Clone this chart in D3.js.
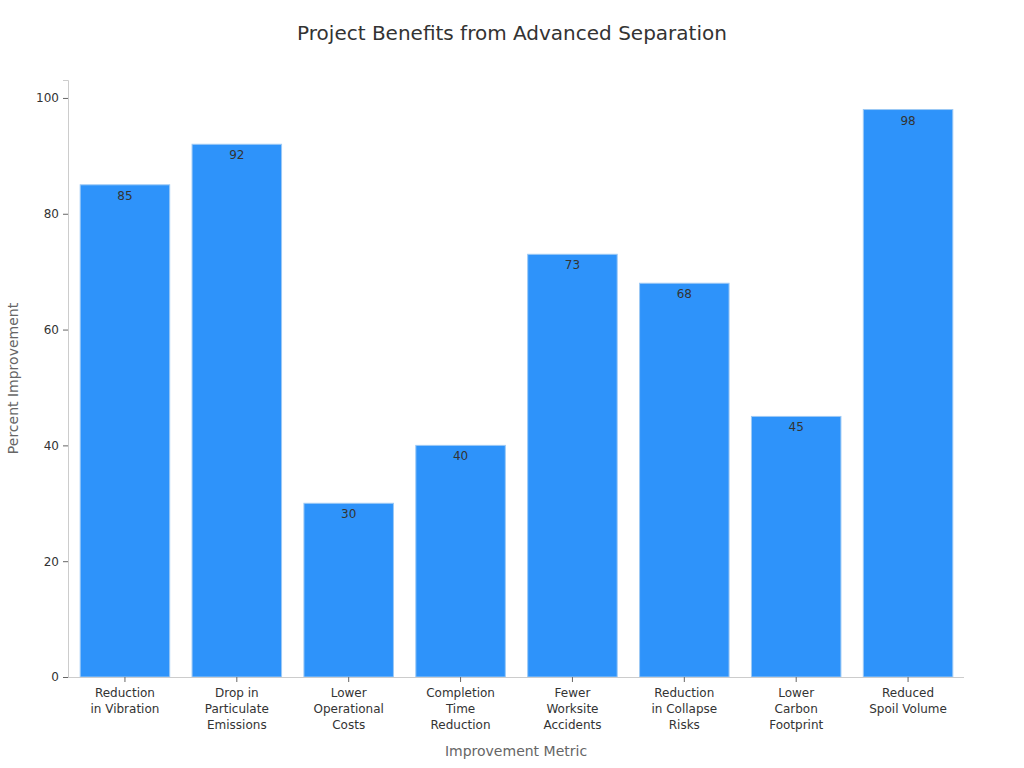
<!DOCTYPE html>
<html><head><meta charset="utf-8">
<script src="https://cdn.jsdelivr.net/npm/d3@7"></script>
<style>body{margin:0;background:#fff;} text{font-family:"DejaVu Sans",sans-serif;}</style>
</head><body>
<svg id="c" width="1024" height="768"></svg>
<script>
const categories = [["Reduction","in Vibration"],["Drop in","Particulate","Emissions"],["Lower","Operational","Costs"],["Completion","Time","Reduction"],["Fewer","Worksite","Accidents"],["Reduction","in Collapse","Risks"],["Lower","Carbon","Footprint"],["Reduced","Spoil Volume"]];
const values = [85, 92, 30, 40, 73, 68, 45, 98];
const yTicks = [0, 20, 40, 60, 80, 100];
const title = "Project Benefits from Advanced Separation";
const xTitle = "Improvement Metric";
const yTitle = "Percent Improvement";

const svg = d3.select("#c");
const m = {l:68, r:964, t:80, b:677};
const keys = categories.map((d,i)=>i);
const x = d3.scaleBand().domain(keys).range([m.l+1, m.r]).paddingInner(0.2).paddingOuter(0.1);
const y = d3.scaleLinear().domain([0, 103.1]).range([m.b, m.t]);

svg.append("text").attr("x",512).attr("y",40).attr("text-anchor","middle")
  .attr("font-size",20).attr("fill","#333").text(title);

svg.selectAll("rect.bar").data(values).join("rect").attr("class","bar")
  .attr("x",(d,i)=>x(i)).attr("width",x.bandwidth())
  .attr("y",d=>y(d)).attr("height",d=>y(0)-y(d))
  .attr("fill","#2e93fa").attr("stroke","#9cc9f5").attr("stroke-width",1);

svg.selectAll("text.val").data(values).join("text").attr("class","val")
  .attr("x",(d,i)=>x(i)+x.bandwidth()/2).attr("y",d=>y(d)+15)
  .attr("text-anchor","middle").attr("font-size",12).attr("fill","#333").text(d=>d);

const ya = svg.append("g").attr("transform",`translate(${m.l},0)`)
  .call(d3.axisLeft(y).tickValues(yTicks).tickSize(5).tickPadding(4));
ya.select(".domain").attr("stroke","#ccc");
ya.selectAll(".tick line").attr("stroke","#666");
ya.selectAll(".tick text").attr("font-size",12).attr("fill","#333").attr("font-family","DejaVu Sans");

const xa = svg.append("g").attr("transform",`translate(0,${m.b})`)
  .call(d3.axisBottom(x).tickSize(5).tickFormat(""));
xa.select(".domain").attr("stroke","#ccc").attr("d",`M${m.l},0.5H${m.r}`);
xa.selectAll(".tick line").attr("stroke","#666");
xa.selectAll(".tick").each(function(i){
  const t = d3.select(this).append("text").attr("text-anchor","middle")
    .attr("font-size",12).attr("fill","#333").attr("y",20);
  categories[i].forEach((s,j)=>t.append("tspan").attr("x",0).attr("dy", j===0?0:16).text(s));
});

svg.append("text").attr("x",(m.l+m.r)/2).attr("y",756).attr("text-anchor","middle")
  .attr("font-size",14).attr("fill","#666").text(xTitle);
svg.append("text").attr("transform",`translate(18,${(m.t+m.b)/2}) rotate(-90)`)
  .attr("text-anchor","middle").attr("font-size",14).attr("fill","#666").text(yTitle);
</script>
</body></html>
